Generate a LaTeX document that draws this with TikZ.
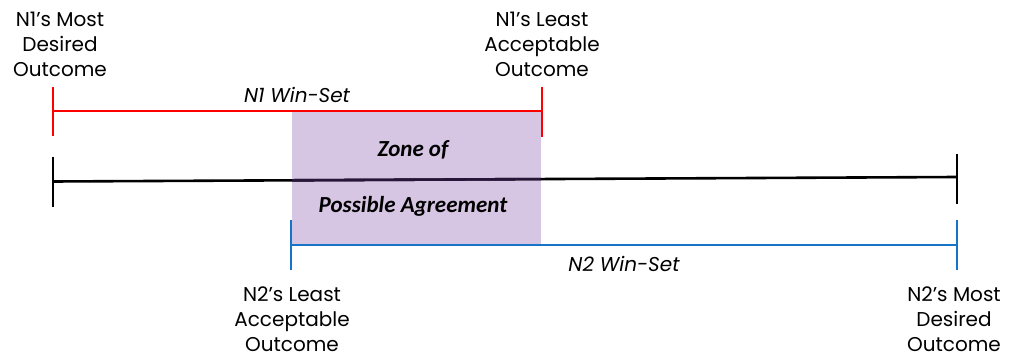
\documentclass[tikz,border=0pt]{standalone}
\usepackage{fontspec}
\setmainfont{Poppins}
\newfontfamily\zfont{Carlito}
\definecolor{zopa}{RGB}{214,197,227}
\definecolor{nred}{RGB}{255,0,0}
\definecolor{nblue}{RGB}{24,116,200}
\definecolor{zline}{RGB}{40,22,58}
\begin{document}
\begin{tikzpicture}[x=1pt,y=-1pt,
  bar/.style={line width=2.6pt},
  lbl/.style={align=center,inner sep=0pt,anchor=north,font=\fontsize{20}{25}\selectfont},
  wset/.style={inner sep=0pt,font=\fontsize{20}{22}\selectfont\itshape},
  zlbl/.style={inner sep=0pt,font=\fontsize{23}{26}\selectfont\zfont\bfseries\itshape}]
\useasboundingbox (0,0) rectangle (1011,358);
% coordinates
\coordinate (r1) at (53,111); \coordinate (r2) at (542,111);
\coordinate (r1t) at (53,87); \coordinate (r1b) at (53,136);
\coordinate (r2t) at (542,87); \coordinate (r2b) at (542,137);
\coordinate (k1) at (53,181.5); \coordinate (k2) at (957,177);
\coordinate (k1t) at (53,157); \coordinate (k1b) at (53,207);
\coordinate (k2t) at (957,154); \coordinate (k2b) at (957,204);
\coordinate (b1) at (291,245); \coordinate (b2) at (957,245);
\coordinate (b1t) at (291,220); \coordinate (b1b) at (291,270);
\coordinate (b2t) at (957,220); \coordinate (b2b) at (957,270);
% zone
\fill[zopa] (292,112) rectangle (541,244);
% black continuum
\draw[bar,black] (k1) -- (k2);
\begin{scope}
\clip (292,112) rectangle (541,244);
\draw[bar,zline] (k1) -- (k2);
\end{scope}
\draw[bar,black] (k1t) -- (k1b);
\draw[bar,black] (k2t) -- (k2b);
% red
\draw[bar,nred] (r1) -- (r2);
\draw[bar,nred] (r1t) -- (r1b);
\draw[bar,nred] (r2t) -- (r2b);
% blue
\draw[bar,nblue] (b1) -- (b2);
\draw[bar,nblue] (b1t) -- (b1b);
\draw[bar,nblue] (b2t) -- (b2b);
% labels
\node[lbl] (n1m) at (60,12) {N1’s Most\\Desired\\Outcome};
\node[lbl] (n1l) at (542,12) {N1’s Least\\Acceptable\\Outcome};
\node[lbl] (n2l) at (292,287) {N2’s Least\\Acceptable\\Outcome};
\node[lbl] (n2m) at (954,287) {N2’s Most\\Desired\\Outcome};
\node[wset] (w1) at (297,95) {N1 Win-Set};
\node[wset] (w2) at (624,264) {N2 Win-Set};
\node[zlbl] (z1) at (413,150) {Zone of};
\node[zlbl] (z2) at (413,206) {Possible Agreement};
\end{tikzpicture}
\end{document}
